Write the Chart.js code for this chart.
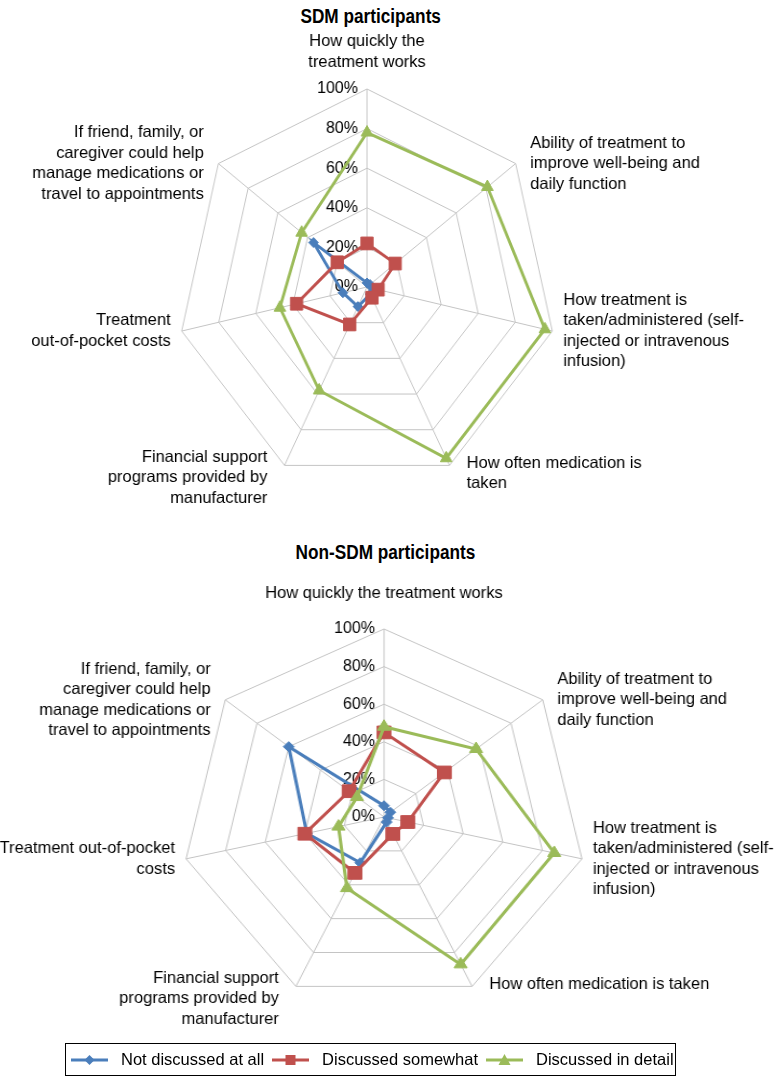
<!DOCTYPE html>
<html>
<head>
  <meta charset="utf-8" />
  <title>SDM vs Non-SDM participants</title>
  <script src="https://cdn.jsdelivr.net/npm/chart.js"></script>
  <style>
    body { margin: 0; background: #fff; font-family: "Liberation Sans", Arial, sans-serif; }
    #page { position: relative; width: 776px; height: 1084px; overflow: hidden; }
    .title {
      position: absolute; width: 776px; text-align: center;
      font-weight: bold; font-size: 20px; line-height: 24px; color: #000;
    }
    .title span { display: inline-block; transform: scaleX(0.86); }
    .chartbox { position: absolute; left: 0; }
    .chartbox canvas { display: block; }
    #legend {
      position: absolute; left: 65px; top: 1043px; width: 611px; height: 33px;
      border: 1px solid #000; display: flex; align-items: center; justify-content: flex-start;
      padding-left: 5px; font-size: 16.5px; color: #000; gap: 8px; box-sizing: border-box;
    }
    #legend .item { display: flex; align-items: center; gap: 13px; white-space: nowrap; }
  </style>
</head>
<body>
<div id="page">
  <div class="title" style="top: 4px; left: -17px;"><span>SDM participants</span></div>
  <div class="chartbox" style="top: 0px;">
    <canvas id="sdmChart" width="776" height="530" style="transform: scaleX(0.96); transform-origin: 367px 0;"></canvas>
  </div>

  <div class="title" style="top: 540px; left: -3px;"><span>Non-SDM participants</span></div>
  <div class="chartbox" style="top: 530px;">
    <canvas id="nonSdmChart" width="776" height="520" style="transform: scaleX(1.08); transform-origin: 384px 0;"></canvas>
  </div>

  <div id="legend"></div>
</div>

<script>
  // categories (line breaks as in the original figure)
  const sdmLabels = [
    ['How quickly the', 'treatment works'],
    ['Ability of treatment to', 'improve well-being and', 'daily function'],
    ['How treatment is', 'taken/administered (self-', 'injected or intravenous', 'infusion)'],
    ['How often medication is', 'taken'],
    ['Financial support', 'programs provided by', 'manufacturer'],
    ['Treatment', 'out-of-pocket costs'],
    ['If friend, family, or', 'caregiver could help', 'manage medications or', 'travel to appointments']
  ];
  const nonSdmLabels = [
    ['How quickly the treatment works'],
    ['Ability of treatment to', 'improve well-being and', 'daily function'],
    ['How treatment is', 'taken/administered (self-', 'injected or intravenous', 'infusion)'],
    ['How often medication is taken'],
    ['Financial support', 'programs provided by', 'manufacturer'],
    ['Treatment out-of-pocket', 'costs'],
    ['If friend, family, or', 'caregiver could help', 'manage medications or', 'travel to appointments']
  ];

  const seriesNames = ['Not discussed at all', 'Discussed somewhat', 'Discussed in detail'];

  // SDM participants (%)
  const sdmNotDiscussed = [2, 2, 3, 4, 11, 13, 36];
  const sdmSomewhat = [22, 19, 6, 6, 21, 38, 20];
  const sdmInDetail = [78, 81, 96, 96, 58, 47, 44];

  // Non-SDM participants (%)
  const nonNotDiscussed = [6, 4, 2, 3, 27, 39, 60];
  const nonSomewhat = [45, 38, 12, 10, 33, 40, 22];
  const nonInDetail = [48, 58, 86, 87, 42, 23, 17];

  const tickValues = [0, 20, 40, 60, 80, 100];
  const tickLabels = ['0%', '20%', '40%', '60%', '80%', '100%'];

  const colors = ['#4a7ebb', '#c0504d', '#9bbb59'];
  const markers = ['rectRot', 'rect', 'triangle'];
  const markerSize = [5, 9, 7];
  const LABEL_FONT = '16.5px "Liberation Sans", Arial, sans-serif';
  const TICK_FONT = '16px "Liberation Sans", Arial, sans-serif';

  // the canvas is stretched horizontally with CSS (like the original figure),
  // so text is drawn with the inverse stretch to keep normal glyphs
  function putText(ctx, t, x, y, k) {
    ctx.save();
    ctx.translate(x, y);
    ctx.scale(1 / k, 1);
    ctx.fillText(t, 0, 0);
    ctx.restore();
  }

  // tick labels left of the vertical axis + category labels around the web
  const radarText = {
    id: 'radarText',
    beforeDatasetsDraw(chart, args, opts) {
      const k = opts.stretch || 1;
      const s = chart.scales.r;
      const ctx = chart.ctx;
      ctx.save();
      ctx.fillStyle = '#000';
      ctx.textBaseline = 'middle';

      ctx.font = TICK_FONT;
      ctx.textAlign = 'right';
      tickValues.forEach((v, i) => {
        const p = s.getPointPositionForValue(0, v);
        putText(ctx, tickLabels[i], p.x - 9 / k, p.y, k);
      });

      ctx.font = LABEL_FONT;
      const lh = 20.5;
      const outer = s.getDistanceFromCenterForValue(100);
      chart.data.labels.forEach((lines, i) => {
        const p = s.getPointPosition(i, outer);
        const dx = p.x - s.xCenter;
        const dy = p.y - s.yCenter;
        let x = p.x, y0;
        if (Math.abs(dx) < 1) {
          ctx.textAlign = 'center';
          y0 = p.y - opts.topGap - (lines.length - 1) * lh;
        } else {
          const gap = 9 + 9 * Math.abs(dy) / outer;
          ctx.textAlign = dx > 0 ? 'left' : 'right';
          x = p.x + (dx > 0 ? gap : -gap) / k;
          if (dy > outer * 0.5) y0 = p.y - (dx > 0 ? 2 : 8);
          else y0 = p.y - (lines.length - 1) * lh / 2;
        }
        lines.forEach((t, n) => putText(ctx, t, x, y0 + n * lh, k));
      });
      ctx.restore();
    }
  };

  function makeRadar(id, labels, series, pad, stretch, topGap) {
    const ctx = document.getElementById(id).getContext('2d');
    return new Chart(ctx, {
      type: 'radar',
      data: {
        labels: labels,
        datasets: series.map((d, i) => ({
          label: seriesNames[i],
          data: d,
          borderColor: colors[i],
          backgroundColor: colors[i],
          pointBackgroundColor: colors[i],
          pointBorderColor: colors[i],
          borderWidth: 3,
          pointStyle: markers[i],
          pointRadius: markerSize[i],
          pointBorderWidth: 1,
          fill: false,
          order: 3 - i
        }))
      },
      options: {
        responsive: false,
        animation: false,
        devicePixelRatio: 1,
        layout: { padding: pad },
        plugins: {
          legend: { display: false },
          tooltip: { enabled: false },
          radarText: { stretch: stretch, topGap: topGap }
        },
        scales: {
          r: {
            min: 0,
            max: 100,
            beginAtZero: true,
            ticks: { display: false, stepSize: 20 },
            pointLabels: { display: false },
            grid: { color: '#c4c4c4', lineWidth: 1 },
            angleLines: { color: '#c4c4c4', lineWidth: 1 }
          }
        }
      },
      plugins: [radarText]
    });
  }

  // centre (367,287) r=198 ; centre (384,817) r=188
  makeRadar('sdmChart', sdmLabels, [sdmNotDiscussed, sdmSomewhat, sdmInDetail],
    { left: 169, right: 211, top: 89, bottom: 45 }, 0.96, 27);
  makeRadar('nonSdmChart', nonSdmLabels, [nonNotDiscussed, nonSomewhat, nonInDetail],
    { left: 196, right: 204, top: 99, bottom: 45 }, 1.08, 36);

  // legend
  const legend = document.getElementById('legend');
  const shapes = [
    '<polygon points="18.5,1 23.5,6 18.5,11 13.5,6" fill="#4a7ebb"/>',
    '<rect x="13.5" y="1" width="10" height="10" fill="#c0504d"/>',
    '<polygon points="18.5,0 24.5,11 12.5,11" fill="#9bbb59"/>'
  ];
  seriesNames.forEach((name, i) => {
    const item = document.createElement('div');
    item.className = 'item';
    item.innerHTML = '<svg width="37" height="12"><line x1="0" y1="6" x2="37" y2="6" stroke="' +
      colors[i] + '" stroke-width="3"/>' + shapes[i] + '</svg><span>' + name + '</span>';
    legend.appendChild(item);
  });
</script>
</body>
</html>
